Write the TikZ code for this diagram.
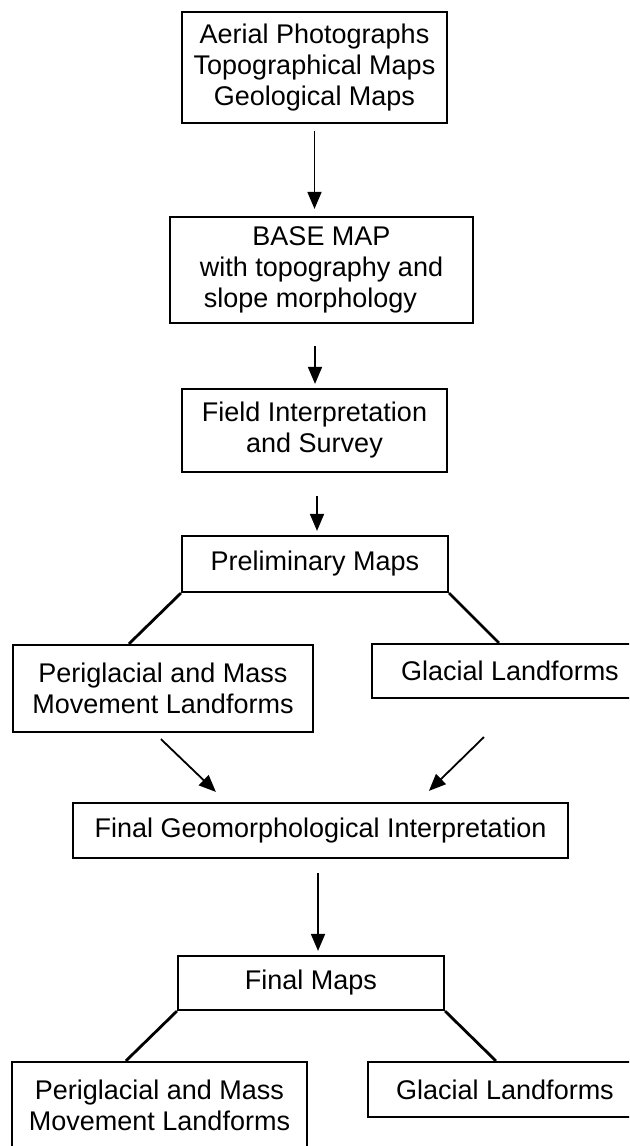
\documentclass[tikz,border=0pt]{standalone}
\usepackage{fontspec}
\setmainfont{Liberation Sans}
\usepackage{tikz}
\usetikzlibrary{arrows.meta, calc}

\tikzset{
    box/.style={rectangle, draw, line width=1.1pt, align=center, inner sep=0pt, font=\fontsize{13.5}{15.5}\selectfont},
    flow/.style={-{Triangle[length=8.5pt, width=7pt]}, line width=0.9pt},
    branch/.style={line width=1.4pt},
}

\begin{document}
\begin{tikzpicture}[x=0.5pt, y=-0.5pt]
    \useasboundingbox (0,0) rectangle (629,1146);
    \clip (0,0) rectangle (629,1146);

    % Sources et carte de base
    \node[box, minimum width=132.5pt, minimum height=55.5pt] (src) at (314.5,67.5) {Aerial Photographs\\Topographical Maps\\Geological Maps};
    \node[box, minimum width=151.5pt, minimum height=53pt] (base) at (321.5,270) {BASE MAP\\with topography and\\slope morphology\hspace*{11pt}};
    \node[box, minimum width=132.5pt, minimum height=41.5pt] (field) at (314.5,430.5) {Field Interpretation\\and Survey};
    \node[box, minimum width=133pt, minimum height=28pt] (prelim) at (315,564) {Preliminary Maps};

    % Cartes préliminaires
    \node[box, minimum width=150pt, minimum height=43.5pt] (peri1) at (163,688.5) {Periglacial and Mass\\Movement Landforms};
    \node[box, minimum width=138pt, minimum height=27pt] (glac1) at (510,671) {Glacial Landforms};
    \node[box, minimum width=247.5pt, minimum height=27.5pt] (interp) at (320.5,830.5) {Final Geomorphological Interpretation};

    % Cartes finales
    \node[box, minimum width=133pt, minimum height=27pt] (finalm) at (311,983) {Final Maps};
    \node[box, minimum width=147.5pt, minimum height=43.5pt] (peri2) at (159.5,1105.5) {Periglacial and Mass\\Movement Landforms};
    \node[box, minimum width=137pt, minimum height=27.5pt] (glac2) at (505,1089.5) {Glacial Landforms};

    % Flèches
    \draw[flow] ($(src.south)+(0,7)$) -- ($(src.south |- base.north)+(0,-7)$);
    \draw[flow] ($(base.south -| field.north)+(0.5,22)$) -- ($(field.north)+(0.5,-4)$);
    \draw[flow] ($(field.south)+(2.5,23)$) -- ($(prelim.north)+(2,-4)$);
    \draw[flow] ($(peri1.south west)+(149,6)$) -- ($(interp.north west)+(144,-10)$);
    \draw[flow] ($(glac1.south west)+(113,38)$) -- ($(interp.north west)+(357,-11)$);
    \draw[flow] ($(interp.south)+(-2.5,14)$) -- ($(finalm.north)+(7,-4)$);

    % Branches
    \draw[branch] (prelim.south west) -- ($(peri1.north west)+(117,0)$);
    \draw[branch] (prelim.south east) -- ($(glac1.north west)+(128,0)$);
    \draw[branch] (finalm.south west) -- ($(peri2.north west)+(115,0)$);
    \draw[branch] (finalm.south east) -- ($(glac2.north west)+(129,0)$);
\end{tikzpicture}
\end{document}
